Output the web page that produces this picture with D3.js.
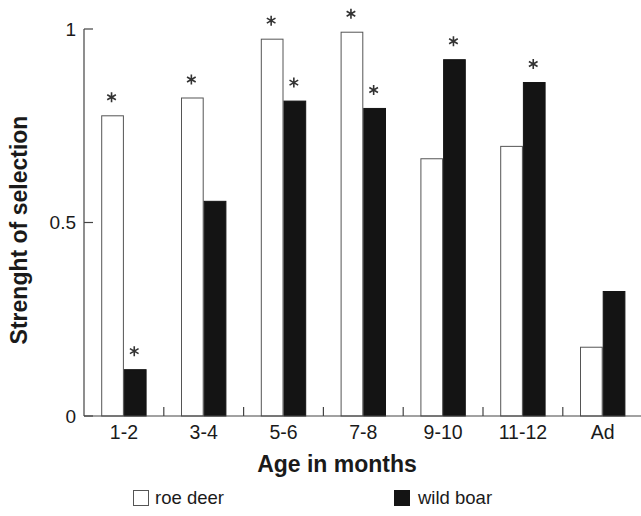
<!DOCTYPE html>
<html><head><meta charset="utf-8">
<script src="https://cdn.jsdelivr.net/npm/d3@7"></script>
<style>body{margin:0;background:#fff}svg{display:block}text{font-family:"Liberation Sans",Arial,Helvetica,sans-serif;fill:#1a1a1a}</style>
</head><body>
<script>
const categories = ["1-2","3-4","5-6","7-8","9-10","11-12","Ad"];
const roeDeer   = [0.777,0.823,0.975,0.993,0.666,0.698,0.179];
const wildBoar  = [0.121,0.556,0.815,0.796,0.922,0.863,0.323];
const roeSig    = [true,true,true,true,false,false,false];
const boarSig   = [true,false,true,true,true,true,false];
const seriesNames = ["roe deer","wild boar"];
const yTicks = [0,0.5,1];
const yTickLabels = ["0","0.5","1"];

const W=641,H=516;
const svg=d3.select("body").append("svg").attr("width",W).attr("height",H);
const x0=84, x1=642.6, yBot=416, yTop=29;
const x=d3.scaleBand().domain(categories).range([x0,x1]).padding(0);
const xs=d3.scaleBand().domain(seriesNames).range([0,x.bandwidth()]).paddingInner(0).paddingOuter(0.758);
const y=d3.scaleLinear().domain([0,1]).range([yBot,yTop]);
const fills={"roe deer":"#ffffff","wild boar":"#141414"};

const rows=categories.map((c,i)=>({c,vals:[
  {s:"roe deer",v:roeDeer[i],sig:roeSig[i]},
  {s:"wild boar",v:wildBoar[i],sig:boarSig[i]}]}));

const g=svg.append("g");
const grp=g.selectAll("g.grp").data(rows).join("g").attr("transform",d=>`translate(${x(d.c)},0)`);
grp.selectAll("rect").data(d=>d.vals).join("rect")
  .attr("x",d=>xs(d.s)+0.5).attr("y",d=>y(d.v)+0.5)
  .attr("width",xs.bandwidth()-1).attr("height",d=>yBot-y(d.v)-0.5)
  .attr("fill",d=>fills[d.s]).attr("stroke",d=>d.s==="roe deer"?"#555":"#141414").attr("stroke-width",1);

// asterisks
function star(r){let p="";for(let k=0;k<3;k++){const a=Math.PI/2+k*Math.PI/3;const dx=r*Math.cos(a),dy=r*Math.sin(a);p+=`M${-dx},${-dy}L${dx},${dy}`;}return p;}
grp.selectAll("path.star").data(d=>d.vals.filter(v=>v.sig)).join("path").attr("class","star")
  .attr("d",star(5)).attr("transform",d=>`translate(${xs(d.s)+xs.bandwidth()/2-1},${y(d.v)-18})`)
  .attr("stroke","#333").attr("stroke-width",1.6).attr("fill","none");

// axes
const ax=svg.append("g").attr("stroke","#444").attr("stroke-width",1.2);
ax.append("line").attr("x1",x0).attr("x2",W).attr("y1",yBot).attr("y2",yBot);
ax.append("line").attr("x1",x0).attr("x2",x0).attr("y1",yBot).attr("y2",yTop);
categories.forEach((c,i)=>{ if(i>0) ax.append("line").attr("x1",x(c)).attr("x2",x(c)).attr("y1",yBot).attr("y2",yBot-9); });
yTicks.forEach(t=>ax.append("line").attr("x1",x0).attr("x2",x0+9).attr("y1",y(t)).attr("y2",y(t)));

svg.selectAll("text.yt").data(yTicks).join("text").attr("class","yt")
  .attr("x",76).attr("y",d=>y(d)).attr("dy","0.36em").attr("text-anchor","end")
  .attr("font-size",19).text((d,i)=>yTickLabels[i]);
svg.selectAll("text.xt").data(categories).join("text").attr("class","xt")
  .attr("x",d=>x(d)+x.bandwidth()/2).attr("y",439).attr("text-anchor","middle")
  .attr("font-size",19.5).text(d=>d);

svg.append("text").attr("x",337).attr("y",472).attr("text-anchor","middle")
  .attr("font-size",23).attr("font-weight","bold").text("Age in months");
svg.append("text").attr("transform","translate(27,230) rotate(-90)").attr("text-anchor","middle")
  .attr("font-size",23).attr("font-weight","bold").text("Strenght of selection");

// legend
const leg=[{s:seriesNames[0],bx:133,tx:155},{s:seriesNames[1],bx:394,tx:418}];
const lg=svg.selectAll("g.leg").data(leg).join("g");
lg.append("rect").attr("x",d=>d.bx+0.5).attr("y",490.5).attr("width",15).attr("height",15)
  .attr("fill",d=>fills[d.s]).attr("stroke",d=>d.s==="roe deer"?"#555":"#141414");
lg.append("text").attr("x",d=>d.tx).attr("y",504).attr("font-size",18.5).text(d=>d.s);
</script>
</body></html>
